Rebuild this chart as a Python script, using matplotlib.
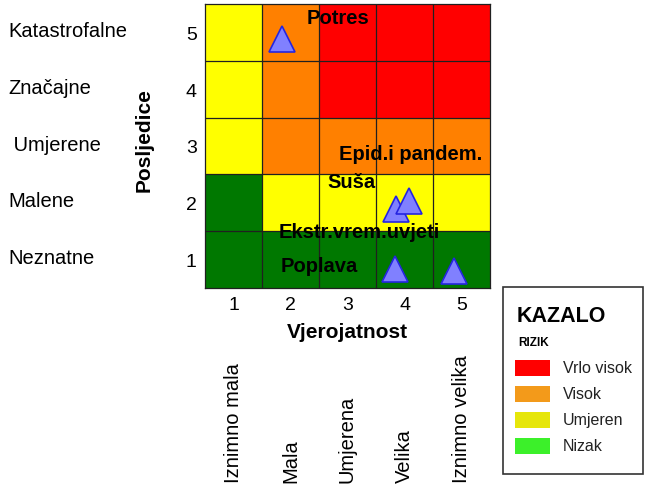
import numpy as np
import matplotlib
matplotlib.use("Agg")
import matplotlib.pyplot as plt
from matplotlib.colors import ListedColormap
from matplotlib.patches import Rectangle

plt.rcParams["font.family"] = ["Liberation Sans", "DejaVu Sans"]

# risk matrix: rows = posljedice 1..5, cols = vjerojatnost 1..5
# 0 nizak, 1 umjeren, 2 visok, 3 vrlo visok
risk = np.array([
    [0, 0, 0, 0, 0],
    [0, 1, 1, 1, 1],
    [1, 2, 2, 2, 2],
    [1, 2, 3, 3, 3],
    [1, 2, 3, 3, 3],
])
cell_colors = ["#007800", "#FFFF00", "#FF8000", "#FF0000"]

prob_ticks = [1, 2, 3, 4, 5]
prob_names = ["Iznimno mala", "Mala", "Umjerena", "Velika", "Iznimno velika"]
cons_ticks = [1, 2, 3, 4, 5]
cons_names = ["Neznatne", "Malene", " Umjerene", "Značajne", "Katastrofalne"]

# hazard markers (vjerojatnost, posljedice)
haz_x = [1.85, 3.85, 4.08, 3.83, 4.87]
haz_y = [4.88, 1.89, 2.03, 0.83, 0.80]

haz_labels = ["Potres", "Epid.i pandem.", "Suša", "Ekstr.vrem.uvjeti", "Poplava"]
lab_x = [2.29, 2.85, 2.64, 1.80, 1.83]
lab_y = [5.27, 2.86, 2.38, 1.50, 0.89]

legend_names = ["Vrlo visok", "Visok", "Umjeren", "Nizak"]
legend_colors = ["#FF0000", "#F39A1A", "#E6E60A", "#3CF02A"]

W, H = 647, 485
fig = plt.figure(figsize=(W / 100, H / 100), dpi=100)
ax = fig.add_axes([205 / W, (H - 289) / H, 285 / W, 284 / H])

ax.imshow(risk, origin="lower", cmap=ListedColormap(cell_colors), vmin=0, vmax=3,
          extent=[0.5, 5.5, 0.5, 5.5], aspect="auto", interpolation="nearest")
for v in np.arange(1.5, 5.5, 1.0):
    ax.axvline(v, color="#202020", lw=0.9)
    ax.axhline(v, color="#202020", lw=0.9)
for s in ax.spines.values():
    s.set_color("#202020")
    s.set_linewidth(0.9)

ax.plot(haz_x, haz_y, "^", ms=19, mfc="#8080FF", mec="#2525E0", mew=1.2, ls="none")
for name, x, y in zip(haz_labels, lab_x, lab_y):
    ax.text(x, y, name, fontsize=14.5, fontweight="bold", ha="left", va="center",
            clip_on=False)

ax.set_xlim(0.5, 5.5)
ax.set_ylim(0.5, 5.5)
ax.set_xticks(prob_ticks)
ax.set_yticks(cons_ticks)
ax.tick_params(length=0, labelsize=14, pad=6)
ax.set_xlabel("Vjerojatnost", fontsize=15, fontweight="bold", labelpad=6)
ax.set_ylabel("Posljedice", fontsize=15, fontweight="bold")
ax.yaxis.set_label_coords(-0.18, 0.525)

# consequence descriptions on the left
for t, name in zip(cons_ticks, cons_names):
    fig.text(8 / W, ax.transData.transform((1, t))[1] / H + 0.004, name,
             fontsize=14.5, ha="left", va="center")

# probability descriptions, rotated, below the axis
for t, name in zip(prob_ticks, prob_names):
    xf = ax.transData.transform((t, 1))[0] / W
    fig.text(xf, 2 / H, name, rotation=90, fontsize=14.5, ha="center", va="bottom")

# legend box
fig.add_artist(Rectangle((503 / W, (H - 475) / H), 140 / W, 187 / H,
                         transform=fig.transFigure, fill=False, ec="#333333", lw=1.2))
fig.text(517 / W, 1 - 316 / H, "KAZALO", fontsize=15.5, fontweight="bold", va="center")
fig.text(518 / W, 1 - 343 / H, "RIZIK", fontsize=8.5, fontweight="bold", va="center")
for i, (name, c) in enumerate(zip(legend_names, legend_colors)):
    yc = 369 + i * 26
    fig.add_artist(Rectangle((515 / W, (H - yc - 8) / H), 35 / W, 16 / H,
                             transform=fig.transFigure, fc=c, ec="none"))
    fig.text(563 / W, 1 - yc / H, name, fontsize=11.5, color="#222222", va="center")

fig.savefig("out.png", dpi=100)
